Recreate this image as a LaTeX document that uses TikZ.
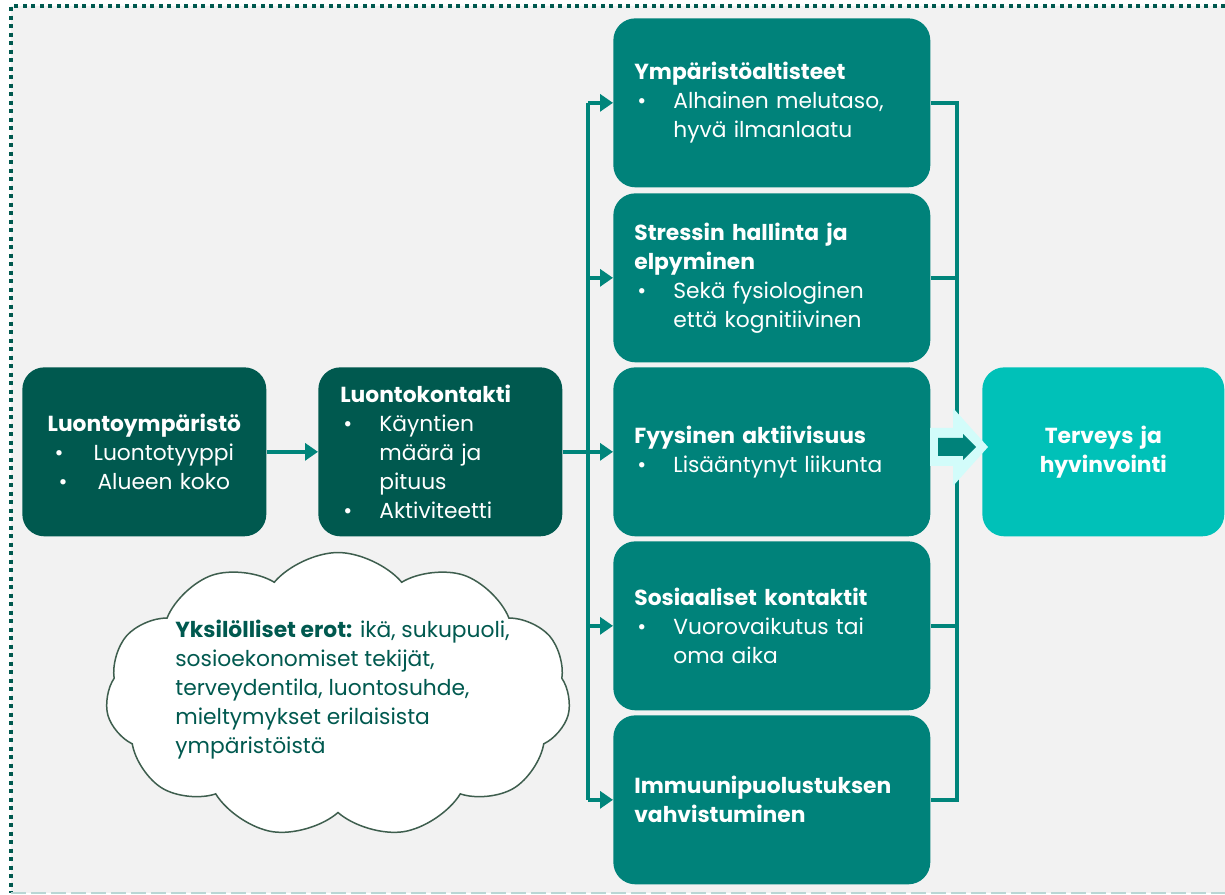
\documentclass[tikz,border=0pt]{standalone}
\usepackage{fontspec}
\setmainfont{Poppins}
\usetikzlibrary{arrows.meta,shapes.symbols}

\definecolor{darkteal}{HTML}{00594F}
\definecolor{midteal}{HTML}{00827A}
\definecolor{brightteal}{HTML}{00C1B8}
\definecolor{lineteal}{HTML}{00857B}
\definecolor{paleaqua}{HTML}{D2FCFA}
\definecolor{panelgrey}{HTML}{F2F2F2}
\definecolor{cloudline}{HTML}{3E5E4E}

\newcommand{\itm}{\makebox[0.78cm][l]{\hspace{0.06cm}\textbullet}}
\newcommand{\cnt}{\hspace*{0.78cm}}

\begin{document}
\begin{tikzpicture}[x=0.02cm, y=-0.02cm,
  font=\fontsize{12.4}{16.5}\selectfont,
  box/.style={rounded corners=0.44cm, text=white, minimum height=3.38cm,
    inner xsep=0.42cm, anchor=north west},
  outbox/.style={box, fill=midteal, text width=5.5cm, align=left},
  conn/.style={draw=lineteal, line width=0.075cm,
    -{Triangle[length=0.26cm,width=0.34cm]}},
  trunk/.style={draw=lineteal, line width=0.075cm}]

  \useasboundingbox (0,0) rectangle (1225,895);
  \fill[panelgrey] (11,6) rectangle (1225,893);
  \draw[darkteal, line width=0.08cm, dash pattern=on 0.08cm off 0.09cm]
    (1225,6) -- (11,6) -- (11,893);
  \draw[paleaqua!70!gray, line width=0.04cm, dash pattern=on 0.3cm off 0.1cm]
    (11,893) -- (1225,893);

  % left side
  \node[box, fill=darkteal, text width=4cm, inner xsep=0.44cm, align=center]
    (env) at (22,367)
    {\textbf{Luontoympäristö}\\ \textbullet\hspace{0.6cm}Luontotyyppi\\
     \textbullet\hspace{0.6cm}Alueen koko};
  \node[box, fill=darkteal, text width=4cm, inner xsep=0.44cm, align=left]
    (contact) at (318,367)
    {\textbf{Luontokontakti}\\ \itm Käyntien\\ \cnt määrä ja\\ \cnt pituus\\
     \itm Aktiviteetti};

  % mechanisms
  \node[outbox] (b1) at (613,18)
    {\textbf{Ympäristöaltisteet}\\ \itm Alhainen melutaso,\\ \cnt hyvä ilmanlaatu};
  \node[outbox] (b2) at (613,193)
    {\textbf{Stressin hallinta ja}\\ \textbf{elpyminen}\\ \itm Sekä fysiologinen\\
     \cnt että kognitiivinen};
  \node[outbox] (b3) at (613,367)
    {\textbf{Fyysinen aktiivisuus}\\ \itm Lisääntynyt liikunta};
  \node[outbox] (b4) at (613,541)
    {\textbf{Sosiaaliset kontaktit}\\ \itm Vuorovaikutus tai\\ \cnt oma aika};
  \node[outbox] (b5) at (613,715)
    {\textbf{Immuunipuolustuksen}\\ \textbf{vahvistuminen}};

  \node[box, fill=brightteal, text width=4cm, align=center] (goal) at (982,367)
    {\textbf{Terveys ja}\\ \textbf{hyvinvointi}};

  % connectors
  \draw[conn] (env.east) -- (contact.west);
  \draw[conn] (contact.east) -- (b3.west);
  \coordinate (split) at (588,451);
  \draw[trunk] (split |- b1.west) -- (split |- b5.west);
  \foreach \b in {b1,b2,b4,b5}
    \draw[conn] (split |- \b.west) -- (\b.west);

  \coordinate (merge) at (957,451);
  \draw[trunk] (b1.east) -- (merge |- b1.east) -- (merge |- b5.east) -- (b5.east);
  \foreach \b in {b2,b4}
    \draw[trunk] (\b.east) -- (merge |- \b.east);

  % block arrow
  \fill[paleaqua] (930,428) -- (953,428) -- (953,408) -- (988,447)
    -- (953,486) -- (953,466) -- (930,466) -- cycle;
  \fill[midteal] (938,438) -- (963,438) -- (963,434) -- (976,447)
    -- (963,460) -- (963,456) -- (938,456) -- cycle;

  % individual differences
  \node[cloud, cloud puffs=11, cloud puff arc=100, cloud ignores aspect,
    draw=cloudline, fill=white, line width=0.03cm,
    minimum width=9.3cm, minimum height=5.7cm]
    (cloud) at (338,695) {};
  \node[anchor=west, inner sep=0, text=darkteal, align=left] (difftext) at (175,690)
    {\textbf{Yksilölliset erot:} ikä, sukupuoli,\\ sosioekonomiset tekijät,\\
     terveydentila, luontosuhde,\\ mieltymykset erilaisista\\ ympäristöistä};

\end{tikzpicture}
\end{document}
